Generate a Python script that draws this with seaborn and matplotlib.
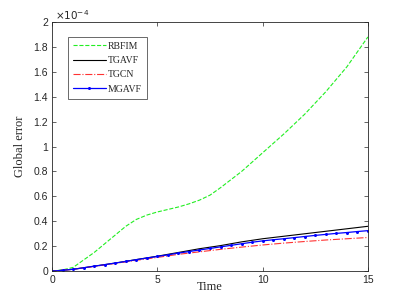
import numpy as np
import pandas as pd
import seaborn as sns
import matplotlib
matplotlib.use("Agg")
import matplotlib.pyplot as plt
from matplotlib.ticker import FuncFormatter

# values, in units of 1e-4
t_rbf = [0, 0.5, 1, 1.5, 2, 2.5, 3, 3.5, 4, 4.5, 5, 5.5, 6, 6.5, 7, 7.5, 8, 9, 10, 11, 12, 13, 14, 15]
rbfim = [0, 0.01, 0.03, 0.09, 0.15, 0.22, 0.29, 0.36, 0.415, 0.45, 0.475, 0.495, 0.515, 0.54,
         0.57, 0.61, 0.67, 0.80, 0.95, 1.10, 1.26, 1.44, 1.64, 1.88]

t_int = [0, 1, 2, 3, 4, 5, 6, 7, 8, 9, 10, 11, 12, 13, 14, 15]
tgavf = [0, 0.015, 0.04, 0.065, 0.093, 0.12, 0.15, 0.18, 0.205, 0.235, 0.26, 0.28, 0.30, 0.32, 0.34, 0.36]
tgcn = [0, 0.015, 0.038, 0.062, 0.087, 0.11, 0.135, 0.155, 0.175, 0.193, 0.21, 0.225, 0.238, 0.25, 0.26, 0.27]

t_half = [0, 0.5, 1, 1.5, 2, 2.5, 3, 3.5, 4, 4.5, 5, 5.5, 6, 6.5, 7, 7.5, 8, 8.5, 9, 9.5,
          10, 10.5, 11, 11.5, 12, 12.5, 13, 13.5, 14, 14.5, 15]
mgavf = [0, 0.007, 0.015, 0.027, 0.04, 0.052, 0.065, 0.078, 0.092, 0.105, 0.118, 0.131, 0.145,
         0.157, 0.17, 0.182, 0.195, 0.207, 0.22, 0.232, 0.243, 0.252, 0.26, 0.269, 0.278, 0.287,
         0.295, 0.303, 0.31, 0.318, 0.325]

sns.set_style("white")
plt.rcParams['font.family'] = ['Liberation Sans', 'DejaVu Sans']

fig = plt.figure(figsize=(4.07, 3.05), dpi=100)
ax = fig.add_axes([0.128, 0.111, 0.776, 0.817])

sns.lineplot(x=t_rbf, y=rbfim, ax=ax, color='#22ee22', linestyle='--', linewidth=0.8, label='RBFIM')
sns.lineplot(x=t_int, y=tgavf, ax=ax, color='black', linestyle='-', linewidth=0.8, label='TGAVF')
sns.lineplot(x=t_int, y=tgcn, ax=ax, color='#ff3333', linestyle='-.', linewidth=0.8, label='TGCN')
sns.lineplot(x=t_half, y=mgavf, ax=ax, color='blue', linewidth=0.9,
             marker='.', markersize=2.8, markeredgecolor='blue', markerfacecolor='blue',
             label='MGAVF')
# make sure each line keeps its own style
styles = ['--', '-', '-.', '-']
for ln, st in zip(ax.lines, styles):
    ln.set_linestyle(st)

ax.set_xlim(0, 15)
ax.set_ylim(0, 2)
ax.set_xticks([0, 5, 10, 15])
ax.set_yticks(np.arange(0, 2.01, 0.2))
ax.yaxis.set_major_formatter(FuncFormatter(lambda v, p: '%g' % round(v, 1)))
ax.tick_params(direction='in', length=3, width=0.5, colors='#262626', labelsize=7.5,
               top=True, right=True, bottom=True, left=True, pad=3)
for s in ax.spines.values():
    s.set_visible(True)
    s.set_color('#262626')
    s.set_linewidth(0.6)

ax.set_xlabel('Time', family='Liberation Serif', fontsize=9, labelpad=-3)
ax.set_ylabel('Global error', family='Liberation Serif', fontsize=9, labelpad=5)
ax.text(0.01, 1.0, r'$\times10^{-4}$', transform=ax.transAxes, fontsize=7.5,
        color='#262626', ha='left', va='bottom')

handles, labels = ax.get_legend_handles_labels()
for h, st in zip(handles, styles):
    h.set_linestyle(st)
leg = ax.legend(handles, labels, loc='upper left', bbox_to_anchor=(0.05, 0.94), borderaxespad=0,
                frameon=True, fancybox=False, numpoints=1,
                prop={'family': 'Liberation Serif', 'size': 7}, handlelength=3.4,
                handletextpad=0.2, borderpad=0.5, labelspacing=0.55)
leg.get_frame().set_edgecolor('#262626')
leg.get_frame().set_linewidth(0.6)

fig.savefig('out.png', dpi=100)
